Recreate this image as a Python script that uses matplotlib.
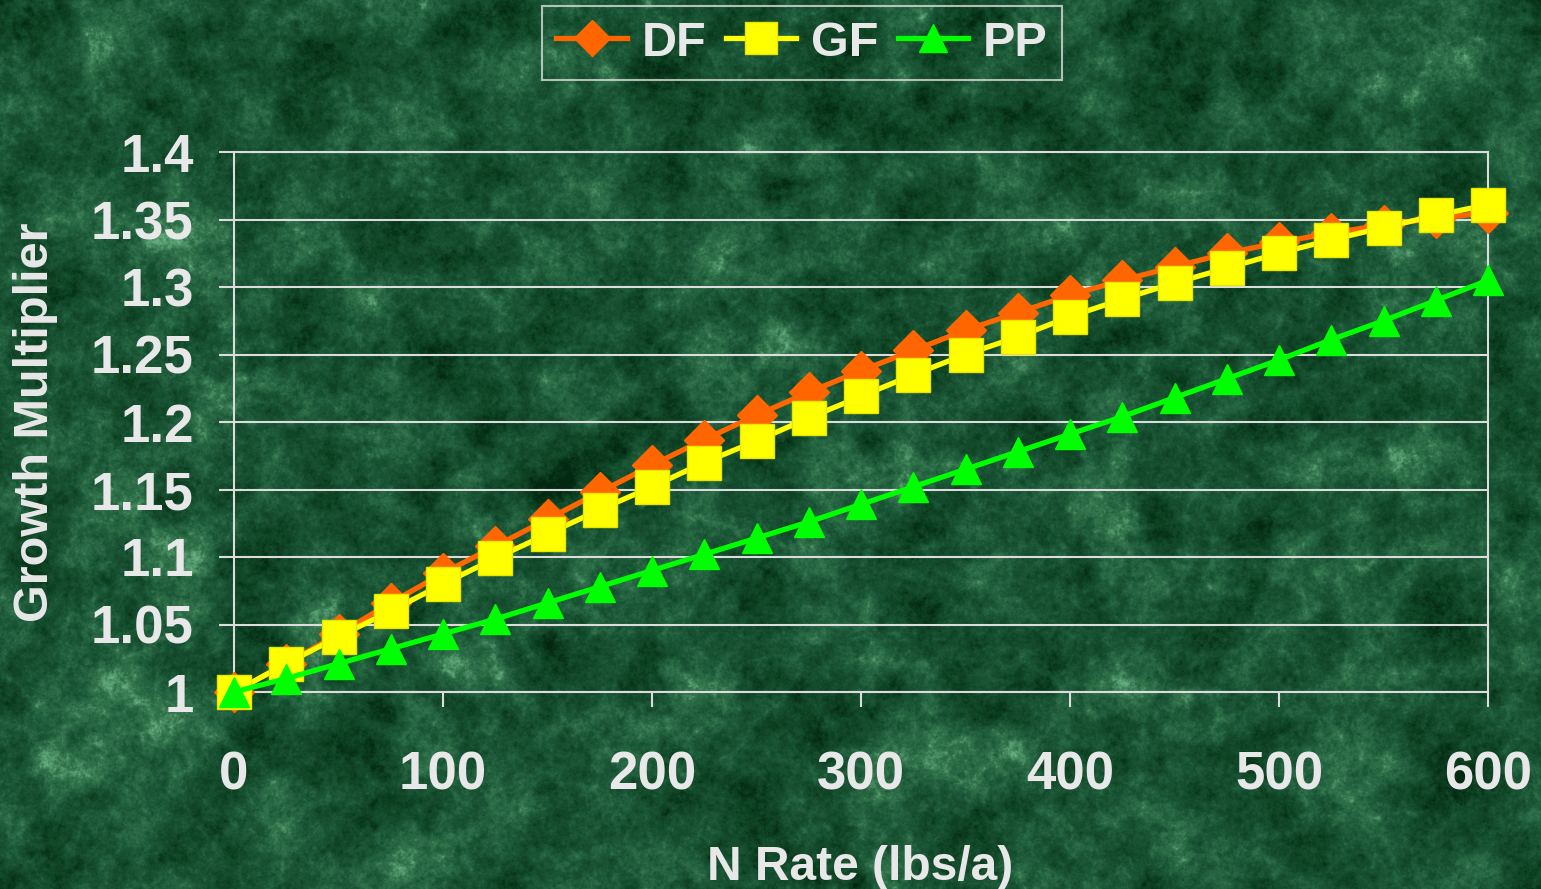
import numpy as np
import matplotlib
matplotlib.use("Agg")
import matplotlib.pyplot as plt
from matplotlib.colors import LinearSegmentedColormap
from matplotlib.ticker import FuncFormatter

# nitrogen rate (lbs/a) and growth multipliers per species
n_rate = [0, 25, 50, 75, 100, 125, 150, 175, 200, 225, 250, 275, 300,
          325, 350, 375, 400, 425, 450, 475, 500, 525, 550, 575, 600]
df = [1.000, 1.021, 1.043, 1.066, 1.088, 1.108, 1.128, 1.148, 1.168, 1.187,
      1.205, 1.222, 1.238, 1.253, 1.268, 1.281, 1.294, 1.305, 1.315, 1.325,
      1.333, 1.340, 1.346, 1.351, 1.355]
gf = [1.000, 1.021, 1.041, 1.060, 1.080, 1.099, 1.117, 1.135, 1.152, 1.170,
      1.186, 1.203, 1.219, 1.235, 1.250, 1.263, 1.278, 1.291, 1.303, 1.314,
      1.325, 1.335, 1.344, 1.353, 1.361]
pp = [1.000, 1.010, 1.021, 1.032, 1.043, 1.054, 1.066, 1.078, 1.090, 1.102,
      1.114, 1.126, 1.139, 1.152, 1.165, 1.178, 1.191, 1.204, 1.218, 1.232,
      1.246, 1.261, 1.275, 1.290, 1.305]
series_names = ["DF", "GF", "PP"]

W, H = 1541, 889
fig = plt.figure(figsize=(W / 100, H / 100), dpi=100)

# green marble backdrop
rng = np.random.default_rng(11)
def smooth_noise(scale):
    n = rng.standard_normal((H, W))
    fy = np.fft.fftfreq(H)[:, None]
    fx = np.fft.fftfreq(W)[None, :]
    filt = np.exp(-(fx ** 2 + fy ** 2) * (2 * np.pi * scale) ** 2 / 2)
    out = np.real(np.fft.ifft2(np.fft.fft2(n) * filt))
    return (out - out.mean()) / out.std()

tex = (0.55 * smooth_noise(20) + 0.35 * smooth_noise(7)
       + 0.25 * smooth_noise(2) + 0.2 * smooth_noise(0.7))
veins = np.exp(-np.abs(smooth_noise(14)) * 3.0)
tex = tex + 0.6 * veins
tex = (tex - tex.min()) / (tex.max() - tex.min())
marble = LinearSegmentedColormap.from_list(
    "marble", ["#032811", "#0e4223", "#1b5737", "#32734c", "#66ac80"])
bg = fig.add_axes([0, 0, 1, 1], zorder=-10)
bg.imshow(tex, cmap=marble, aspect="auto", vmin=0.12, vmax=0.9, interpolation="bilinear")
bg.axis("off")

ax = fig.add_axes([234 / W, 1 - 692 / H, (1488 - 234) / W, (692 - 152) / H])
ax.patch.set_alpha(0)

txt = "#e8e8e8"
grid_c = "#dcdcdc"
font = "Liberation Sans"

ax.plot(n_rate, df, color="#ff6600", lw=3.8, marker="D", ms=20,
        mec="#ff6600", clip_on=False, label=series_names[0], zorder=3)
ax.plot(n_rate, gf, color="#ffff00", lw=3.8, marker="s", ms=25,
        mec="#e6e600", mew=1, clip_on=False, label=series_names[1], zorder=4)
ax.plot(n_rate, pp, color="#00ff00", lw=3.8, marker="^", ms=22,
        mec="#00ff00", clip_on=False, label=series_names[2], zorder=5)

ax.set_xlim(0, 600)
ax.set_ylim(1.0, 1.4)
ax.set_xticks(range(0, 601, 100))
ax.set_yticks(np.arange(1.0, 1.401, 0.05))
ax.yaxis.set_major_formatter(FuncFormatter(lambda v, p: "{:g}".format(round(v, 2))))
ax.grid(axis="y", color=grid_c, lw=1.5)
ax.set_axisbelow(True)
for s in ax.spines.values():
    s.set_color(grid_c)
    s.set_linewidth(1.5)
ax.tick_params(axis="both", colors=grid_c, length=11, width=1.5, direction="out",
               labelcolor=txt)
ax.tick_params(axis="y", pad=18)
ax.tick_params(axis="x", pad=31)
for lab in ax.get_xticklabels() + ax.get_yticklabels():
    lab.set_fontfamily(font)
    lab.set_fontweight("bold")
    lab.set_fontsize(38)

fig.text(860 / W, 1 - 880 / H, "N Rate (lbs/a)", ha="center", va="baseline",
         fontsize=34.5, fontweight="bold", color=txt, family=font)
fig.text(36 / W, 1 - 422 / H, "Growth Multiplier", ha="center", va="center",
         rotation=90, fontsize=35, fontweight="bold", color=txt, family=font)

leg = fig.legend(loc="center", bbox_to_anchor=(802 / W, 1 - 43 / H), ncol=3,
                 prop={"family": font, "weight": "bold", "size": 35},
                 frameon=True, fancybox=False, edgecolor=grid_c,
                 handlelength=1.45, handletextpad=0.3, columnspacing=0.4,
                 borderpad=0.3, markerscale=0.9)
leg.get_frame().set_facecolor("none")
leg.get_frame().set_linewidth(1.5)
for t in leg.get_texts():
    t.set_color(txt)

fig.savefig("out.png", dpi=100)
